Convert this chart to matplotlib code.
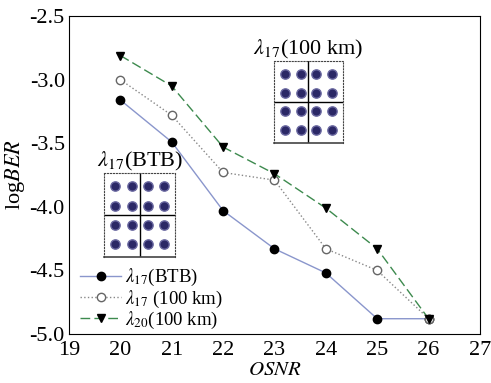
import numpy as np
import matplotlib
matplotlib.use('Agg')
import matplotlib.pyplot as plt

plt.rcParams['font.family'] = ['Liberation Serif', 'DejaVu Serif']
plt.rcParams['mathtext.fontset'] = 'stix'
plt.rcParams['axes.unicode_minus'] = False

osnr = [20, 21, 22, 23, 24, 25, 26]
btb17 = [-3.16, -3.49, -4.03, -4.33, -4.52, -4.88, -4.88]
km17 = [-3.00, -3.28, -3.73, -3.79, -4.33, -4.50, -4.88]
km20 = [-2.81, -3.05, -3.53, -3.74, -4.01, -4.33, -4.88]

labels = [r'$\lambda_{17}$(BTB)', r'$\lambda_{17}$ (100 km)', r'$\lambda_{20}$(100 km)']

# 16-QAM constellation points for the insets
qam_i = [-3, -1, 1, 3] * 4
qam_q = [3] * 4 + [1] * 4 + [-1] * 4 + [-3] * 4

fig = plt.figure(figsize=(4.91, 3.83), dpi=100)
ax = fig.add_axes([0.1405, 0.128, 0.837, 0.830])

ax.plot(osnr, btb17, '-', color='#8a96cc', lw=1.0, marker='o', ms=6,
        mfc='black', mec='black', label=labels[0])
ax.plot(osnr, km17, ':', color='#888888', lw=1.0, marker='o', ms=6,
        mfc='white', mec='#666666', label=labels[1])
ax.plot(osnr, km20, '--', color='#3d8a4e', lw=1.0, marker='v', ms=6,
        mfc='black', mec='black', label=labels[2], dashes=(7, 3))

ax.set_xlim(19, 27)
ax.set_ylim(-5.0, -2.5)
ax.set_xticks(range(19, 28))
ax.set_yticks([-5.0, -4.5, -4.0, -3.5, -3.0, -2.5])
ax.set_yticklabels(['-5.0', '-4.5', '-4.0', '-3.5', '-3.0', '-2.5'])
ax.tick_params(length=0, labelsize=16)
ax.tick_params(axis='x', pad=5)
ax.tick_params(axis='y', pad=3)
ax.set_xlabel(r'$\mathit{OSNR}$', fontsize=15, labelpad=1)
ax.set_ylabel(r'log$\mathit{BER}$', fontsize=16, labelpad=2)

ax.legend(loc='lower left', bbox_to_anchor=(0.0, -0.025), frameon=False,
          fontsize=13.5, handlelength=2.2, handletextpad=0.2,
          labelspacing=0.0, borderaxespad=0.2)


def constellation(rect, title):
    ins = fig.add_axes(rect)
    ins.scatter(qam_i, qam_q, s=45, color='#2b2866', edgecolors='#6a68a0', lw=1.0)
    ins.axhline(0, color='black', lw=1.0)
    ins.axvline(0, color='black', lw=1.0)
    ins.set_xlim(-4.4, 4.4)
    ins.set_ylim(-4.4, 4.4)
    ins.set_xticks([])
    ins.set_yticks([])
    for s in ins.spines.values():
        s.set_linestyle(':')
        s.set_color('#444444')
    ins.spines['bottom'].set_linestyle('-')
    ins.spines['bottom'].set_linewidth(1.2)
    ins.set_title(title, fontsize=16, pad=2)


constellation([0.212, 0.329, 0.145, 0.219], r'$\lambda_{17}$(BTB)')
constellation([0.558, 0.627, 0.1405, 0.214], r'$\lambda_{17}$(100 km)')

fig.savefig('out.png', dpi=100)
